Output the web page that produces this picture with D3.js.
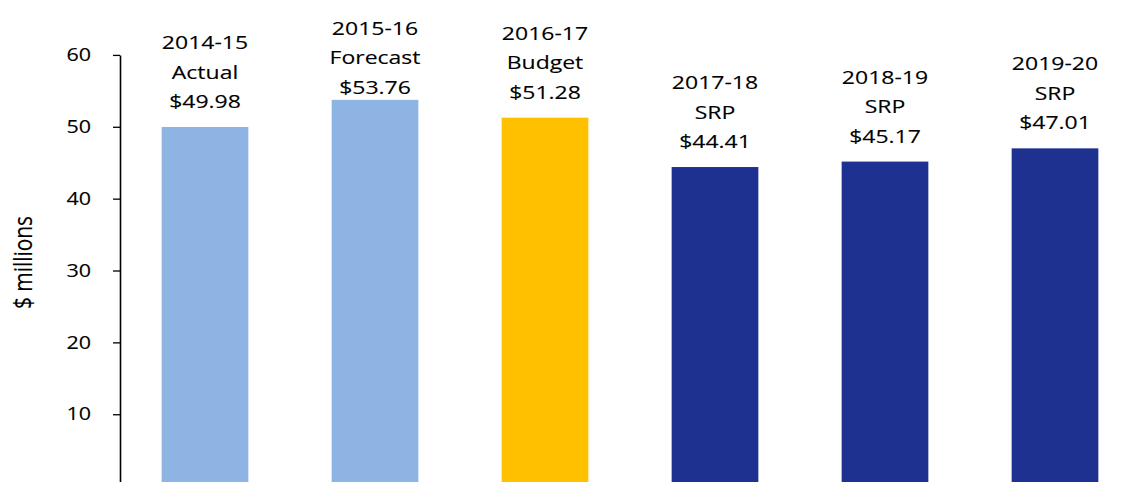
<!DOCTYPE html>
<html>
<head>
<meta charset="utf-8">
<script src="https://cdn.jsdelivr.net/npm/d3@7"></script>
<style>
  html, body { margin: 0; padding: 0; background: #fff; }
  svg { display: block; }
  text { font-family: "Open Sans", sans-serif; fill: #000; stroke: #000; stroke-width: 0.15px; }
</style>
</head>
<body>
<div id="chart"></div>
<script>
// data
const years = ["2014-15", "2015-16", "2016-17", "2017-18", "2018-19", "2019-20"];
const kinds = ["Actual", "Forecast", "Budget", "SRP", "SRP", "SRP"];
const values = [49.98, 53.76, 51.28, 44.41, 45.17, 47.01];
const yTicks = [10, 20, 30, 40, 50, 60];

const kindColor = d3.scaleOrdinal()
  .domain(["Actual", "Forecast", "Budget", "SRP"])
  .range(["#8EB4E3", "#8EB4E3", "#FFC000", "#1F3190"]);

const width = 1130, height = 482;
const sy = 0.82;            // the original is squashed vertically
const vbH = height / sy;    // viewBox height

const svg = d3.select("#chart").append("svg")
  .attr("width", width)
  .attr("height", height)
  .attr("viewBox", `0 0 ${width} ${vbH}`)
  .attr("preserveAspectRatio", "none");

const x = d3.scaleBand()
  .domain(years)
  .range([120, 1140])
  .paddingInner(0.49)
  .paddingOuter(0.245);

const y = d3.scaleLinear()
  .domain([0, 60])
  .range([486.2 / sy, 55 / sy]);

// y axis
const yAxis = d3.axisLeft(y)
  .tickValues(yTicks)
  .tickSize(7)
  .tickSizeOuter(0)
  .tickPadding(22);

const gy = svg.append("g")
  .attr("transform", "translate(120,0)")
  .call(yAxis);

gy.select(".domain").attr("stroke", "#000").attr("stroke-width", 1.6);
gy.selectAll(".tick line").attr("stroke", "#000").attr("stroke-width", 1.6);
gy.selectAll(".tick text")
  .attr("font-size", 21.5)
  .attr("font-family", "Open Sans, sans-serif")
  .attr("fill", "#000");

// axis title
svg.append("text")
  .attr("transform", `translate(31.5,${262.5 / sy}) rotate(-90)`)
  .attr("text-anchor", "middle")
  .attr("font-size", 25.5)
  .text("$ millions");

// bars
svg.append("g").selectAll("rect")
  .data(values)
  .join("rect")
  .attr("x", (d, i) => x(years[i]))
  .attr("y", d => y(d))
  .attr("width", x.bandwidth())
  .attr("height", d => y(0) - y(d))
  .attr("fill", (d, i) => kindColor(kinds[i]));

// labels above bars, three lines each, kept inside the top of the chart
const lineH = 29.5 / sy, gap = 19 / sy, minTop = 35 / sy;

const labels = svg.append("g").selectAll("text")
  .data(values)
  .join("text")
  .attr("text-anchor", "middle")
  .attr("font-size", 23)
  .attr("transform", (d, i) => {
    let first = y(d) - gap - 2 * lineH;
    first = Math.max(first, minTop);
    return `translate(${x(years[i]) + x.bandwidth() / 2},${first})`;
  });

labels.each(function(d, i) {
  const t = d3.select(this);
  [years[i], kinds[i], "$" + d.toFixed(2)].forEach((s, k) => {
    t.append("tspan").attr("x", 0).attr("y", k * lineH).text(s);
  });
});
</script>
</body>
</html>
